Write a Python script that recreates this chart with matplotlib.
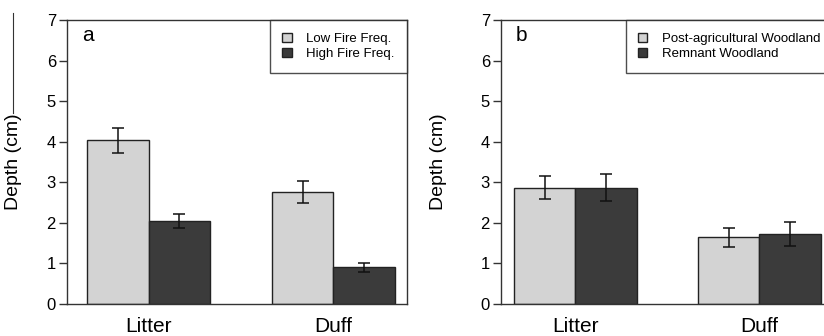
import matplotlib
matplotlib.use('Agg')
import matplotlib.pyplot as plt
from matplotlib.lines import Line2D

plt.rcParams['font.family'] = ['Liberation Sans', 'DejaVu Sans']

# data
groups = ['Litter', 'Duff']

a_labels = ['Low Fire Freq.', 'High Fire Freq.']
a_low = [4.03, 2.77]
a_low_err = [0.31, 0.27]
a_high = [2.05, 0.90]
a_high_err = [0.18, 0.12]

b_labels = ['Post-agricultural Woodland', 'Remnant Woodland']
b_post = [2.87, 1.64]
b_post_err = [0.29, 0.24]
b_rem = [2.87, 1.72]
b_rem_err = [0.33, 0.29]

light = '#d3d3d3'
dark = '#3b3b3b'
edge = '#222222'

fig = plt.figure(figsize=(8.24, 3.36), dpi=100)
ax_a = fig.add_axes([67 / 824, 32 / 336, 340 / 824, 284 / 336])
ax_b = fig.add_axes([501 / 824, 32 / 336, 332 / 824, 284 / 336])


def panel(ax, v1, e1, v2, e2, labels, tag, xlim, ylab_x):
    x1 = [1.5, 4.5]
    x2 = [2.5, 5.5]
    ax.bar(x1, v1, width=1.0, color=light, edgecolor=edge, linewidth=1.0, label=labels[0])
    ax.bar(x2, v2, width=1.0, color=dark, edgecolor=edge, linewidth=1.0, label=labels[1])
    ax.errorbar(x1, v1, yerr=e1, fmt='none', ecolor='#111111', elinewidth=1.1, capsize=4.5, capthick=1.1)
    ax.errorbar(x2, v2, yerr=e2, fmt='none', ecolor='#111111', elinewidth=1.1, capsize=4.5, capthick=1.1)
    ax.set_xlim(*xlim)
    ax.set_ylim(0, 7)
    ax.set_yticks(range(0, 8))
    ax.set_xticks([2, 5])
    ax.set_xticklabels(groups, fontsize=15)
    ax.tick_params(axis='x', length=0, pad=9)
    ax.tick_params(axis='y', length=6, width=1, labelsize=12, pad=2, color='#333333')
    for s in ax.spines.values():
        s.set_color('#333333')
        s.set_linewidth(1.0)
    ax.set_ylabel('Depth (cm)', fontsize=14)
    ax.yaxis.set_label_coords(ylab_x, 0.5)
    ax.text(0.045, 0.945, tag, transform=ax.transAxes, fontsize=15, va='center', ha='left')
    leg = ax.legend(loc='upper right', fontsize=9.5, frameon=True, fancybox=False,
                    borderaxespad=0, handlelength=0.7, handleheight=0.7,
                    borderpad=0.95, labelspacing=0.25, handletextpad=1.1)
    leg.get_frame().set_edgecolor('#222222')
    leg.get_frame().set_linewidth(1.0)


panel(ax_a, a_low, a_low_err, a_high, a_high_err, a_labels, 'a', (0.675, 6.195), -0.132)
panel(ax_b, b_post, b_post_err, b_rem, b_rem_err, b_labels, 'b', (0.79, 6.2), -0.163)

# stray line at the top-left edge of the scan
fig.add_artist(Line2D([13 / 824, 13 / 824], [1 - 13 / 336, 1 - 113 / 336], color='#333333', linewidth=0.8))

fig.savefig('out.png', dpi=100)
